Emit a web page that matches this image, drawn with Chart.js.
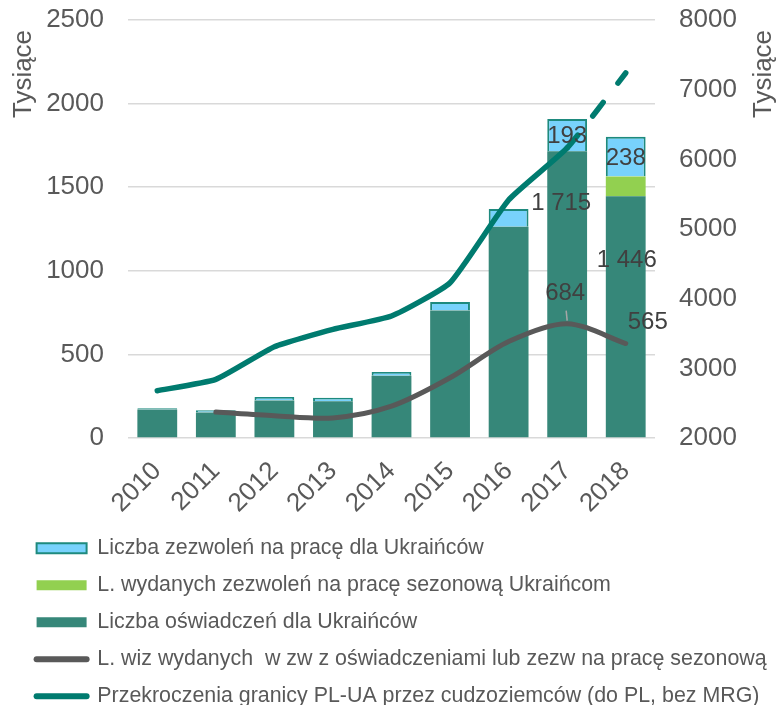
<!DOCTYPE html>
<html>
<head>
<meta charset="utf-8">
<script src="https://cdn.jsdelivr.net/npm/chart.js@4"></script>
<style>
  html, body { margin: 0; padding: 0; background: #fff; overflow: hidden; }
  canvas { display: block; }
</style>
</head>
<body>
<canvas id="chart" width="778" height="717"></canvas>
<script>
// ----- data (thousands) -----
const years = ['2010', '2011', '2012', '2013', '2014', '2015', '2016', '2017', '2018'];
const oswiadczenia = [170, 152, 225, 220, 373, 763, 1263, 1715, 1446];
const sezonowe = [0, 0, 0, 0, 0, 0, 0, 0, 118];
const zezwolenia = [8, 14, 20, 20, 22, 51, 107, 193, 238];
const wizy = [null, 155, 133, 120, 190, 360, 577, 684, 565];
const przekroczenia = [2679, 2842, 3311, 3560, 3751, 4229, 5416, 6163, 7239];

const FONT = '"Liberation Sans", Arial, sans-serif';
const TICK = '#595959';

// order of legend entries (dataset indices)
const legendOrder = [4, 3, 2, 0, 1];

// which values get a label: dataset, index, placement offsets
const valueLabels = [
  { ds: 4, i: 7, mid: true, dx: 0, dy: 1 },
  { ds: 4, i: 8, mid: true, dx: 0, dy: 2 },
  { ds: 2, i: 7, mid: false, dx: -6, dy: 52 },
  { ds: 2, i: 8, mid: false, dx: 1, dy: 64 },
  { ds: 0, i: 7, mid: false, dx: -2, dy: -30, leader: true },
  { ds: 0, i: 8, mid: false, dx: 22, dy: -21 }
];

function fmt(v) {
  return String(v).replace(/\B(?=(\d{3})+(?!\d))/g, ' ');
}

const labelPlugin = {
  id: 'valueLabels',
  afterDatasetsDraw(chart) {
    const ctx = chart.ctx;
    ctx.save();
    ctx.font = '24px ' + FONT;
    ctx.fillStyle = '#404040';
    ctx.textAlign = 'center';
    ctx.textBaseline = 'middle';
    valueLabels.forEach(l => {
      const el = chart.getDatasetMeta(l.ds).data[l.i];
      const v = chart.data.datasets[l.ds].data[l.i];
      let y = l.mid ? (el.y + el.base) / 2 : el.y;
      if (l.leader) {
        ctx.strokeStyle = '#A6A6A6';
        ctx.lineWidth = 1.5;
        ctx.beginPath();
        ctx.moveTo(el.x, el.y - 3);
        ctx.lineTo(el.x - 1, el.y - 13);
        ctx.stroke();
      }
      ctx.fillText(fmt(v), el.x + l.dx, y + l.dy);
    });
    ctx.restore();
  }
};

// "Tysiące" on both sides, both reading bottom-to-top
const axisTitles = {
  id: 'axisTitles',
  afterDraw(chart) {
    const ctx = chart.ctx;
    const top = chart.chartArea.top;
    ctx.save();
    ctx.font = '26px ' + FONT;
    ctx.fillStyle = TICK;
    ctx.textAlign = 'center';
    ctx.textBaseline = 'middle';
    [chart.scales.y.left + 3, chart.scales.y1.right - 14].forEach(x => {
      ctx.save();
      ctx.translate(x, top + 54);
      ctx.rotate(-Math.PI / 2);
      ctx.fillText('Tysiące', 0, 0);
      ctx.restore();
    });
    ctx.restore();
  }
};

const lastSeg = przekroczenia.length - 2;
const plain = v => String(v);

new Chart(document.getElementById('chart'), {
  data: {
    labels: years,
    datasets: [
      {
        type: 'line',
        label: 'L. wiz wydanych  w zw z oświadczeniami lub zezw na pracę sezonową',
        data: wizy,
        yAxisID: 'y',
        borderColor: '#595959',
        backgroundColor: '#595959',
        borderWidth: 5,
        borderCapStyle: 'round',
        borderJoinStyle: 'round',
        pointRadius: 0,
        tension: 0.3
      },
      {
        type: 'line',
        label: 'Przekroczenia granicy PL-UA przez cudzoziemców (do PL, bez MRG)',
        data: przekroczenia,
        yAxisID: 'y1',
        borderColor: '#007B6F',
        backgroundColor: '#007B6F',
        borderWidth: 5.5,
        borderCapStyle: 'round',
        borderJoinStyle: 'round',
        pointRadius: 0,
        tension: 0.15,
        segment: {
          borderDash: c => c.p0DataIndex === lastSeg ? [17, 24] : undefined
        }
      },
      {
        type: 'bar',
        label: 'Liczba oświadczeń dla Ukraińców',
        data: oswiadczenia,
        yAxisID: 'y',
        stack: 's',
        backgroundColor: '#368779',
        borderWidth: 0
      },
      {
        type: 'bar',
        label: 'L. wydanych zezwoleń na pracę sezonową Ukraińcom',
        data: sezonowe,
        yAxisID: 'y',
        stack: 's',
        backgroundColor: '#92D050',
        borderWidth: 0
      },
      {
        type: 'bar',
        label: 'Liczba zezwoleń na pracę dla Ukraińców',
        data: zezwolenia,
        yAxisID: 'y',
        stack: 's',
        backgroundColor: '#78D2FC',
        borderColor: '#1E8A7E',
        borderWidth: 2
      }
    ]
  },
  options: {
    responsive: false,
    animation: false,
    datasets: { bar: { categoryPercentage: 1, barPercentage: 0.68 } },
    layout: { padding: { left: 21, right: 0, top: 20, bottom: 0 } },
    plugins: {
      tooltip: { enabled: false },
      legend: {
        position: 'bottom',
        align: 'start',
        labels: {
          color: TICK,
          font: { size: 21.4, family: FONT },
          padding: 15.6,
          usePointStyle: true,
          pointStyleWidth: 50,
          boxHeight: 10,
          generateLabels(chart) {
            return legendOrder.map(i => {
              const ds = chart.data.datasets[i];
              const isLine = ds.type === 'line';
              return {
                text: ds.label,
                datasetIndex: i,
                fillStyle: ds.backgroundColor,
                strokeStyle: ds.borderColor || ds.backgroundColor,
                lineWidth: isLine ? 6 : ds.borderWidth,
                pointStyle: isLine ? 'line' : 'rect',
                lineCap: 'round',
                fontColor: TICK,
                hidden: !chart.isDatasetVisible(i)
              };
            });
          }
        }
      }
    },
    scales: {
      x: {
        stacked: true,
        grid: { display: false },
        border: { display: false },
        ticks: {
          color: TICK,
          font: { size: 26, family: FONT },
          minRotation: 45,
          maxRotation: 45,
          autoSkip: false,
          padding: 10
        },
        afterFit(axis) { axis.height = 84; }
      },
      y: {
        stacked: true,
        position: 'left',
        min: 0,
        max: 2500,
        grid: { color: '#D9D9D9', lineWidth: 1.5, drawTicks: false },
        border: { display: false },
        ticks: {
          stepSize: 500,
          color: TICK,
          font: { size: 26, family: FONT },
          padding: 24,
          callback: plain
        },
        afterFit(axis) {
          axis.width = 107;
          axis.paddingTop = 0;
          axis.paddingBottom = 0;
        }
      },
      y1: {
        position: 'right',
        min: 2000,
        max: 8000,
        grid: { display: false, drawTicks: false },
        border: { display: false },
        ticks: {
          stepSize: 1000,
          color: TICK,
          font: { size: 26, family: FONT },
          padding: 24,
          callback: plain
        },
        afterFit(axis) {
          axis.width = 123;
          axis.paddingTop = 0;
          axis.paddingBottom = 0;
        }
      }
    }
  },
  plugins: [labelPlugin, axisTitles]
});
</script>
</body>
</html>
